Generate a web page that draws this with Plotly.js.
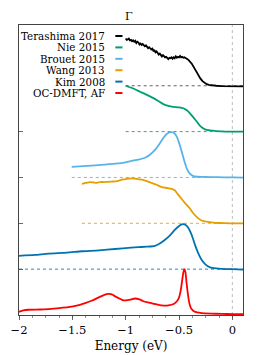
<!DOCTYPE html>
<html><head><meta charset="utf-8">
<script src="https://cdn.plot.ly/plotly-3.0.1.min.js"></script>
<style>body{margin:0;background:#fff}#chart{width:266px;height:355px}</style>
</head><body><div id="chart"></div>
<script>
// Series (energy in eV, intensity relative to each curve's baseline)
const names = ["Terashima 2017","Nie 2015","Brouet 2015","Wang 2013","Kim 2008","OC-DMFT, AF"];
const colors = ["#000000","#009E73","#56B4E9","#E69F00","#0072B2","#FF0000"];
const offsets = [5,4,3,2,1,0];
const baseStart = [-1.0,-1.0,-1.505,-1.41,-2.0,null];

const teraE = [-1.00,-0.99,-0.98,-0.97,-0.96,-0.95,-0.94,-0.93,-0.92,-0.91,-0.90,-0.89,-0.88,-0.87,-0.86,-0.85,-0.84,-0.83,-0.82,-0.81,-0.80,-0.79,-0.78,-0.77,-0.76,-0.75,-0.74,-0.73,-0.72,-0.71,-0.70,-0.69,-0.68,-0.67,-0.66,-0.65,-0.64,-0.63,-0.62,-0.61,-0.60,-0.59,-0.58,-0.57,-0.56,-0.55,-0.54,-0.53,-0.52,-0.51,-0.50,-0.49,-0.48,-0.47,-0.46,-0.45,-0.44,-0.43,-0.42,-0.41,-0.40,-0.38,-0.36,-0.34,-0.32,-0.30,-0.28,-0.26,-0.24,-0.22,-0.20,-0.15,-0.10,-0.05,0.00,0.05,0.10];
const teraY = [1.03,1.00,1.01,1.03,0.99,1.00,0.97,0.99,0.96,0.98,0.93,0.96,0.94,0.90,0.92,0.89,0.91,0.87,0.86,0.88,0.84,0.82,0.84,0.80,0.79,0.81,0.76,0.77,0.73,0.75,0.70,0.68,0.70,0.66,0.64,0.67,0.65,0.62,0.63,0.60,0.58,0.61,0.60,0.62,0.59,0.62,0.60,0.64,0.61,0.63,0.62,0.65,0.62,0.63,0.61,0.62,0.61,0.60,0.58,0.56,0.54,0.48,0.40,0.31,0.24,0.16,0.10,0.06,0.035,0.02,0.01,0.00,-0.01,-0.01,-0.01,-0.015,-0.015];

const nieE = [-1.0,-0.93,-0.865,-0.80,-0.74,-0.69,-0.647,-0.60,-0.553,-0.50,-0.459,-0.43,-0.397,-0.365,-0.334,-0.30,-0.256,-0.22,-0.18,-0.146,-0.10,-0.05,0,0.05,0.10];
const nieY = [1.0,0.94,0.87,0.80,0.73,0.66,0.60,0.56,0.54,0.53,0.51,0.47,0.40,0.31,0.22,0.12,0.05,0.03,0.02,0.01,0.005,0.0,0.0,0.0,0.0];

const brouetE = [-1.506,-1.40,-1.318,-1.20,-1.10,-1.00,-0.943,-0.88,-0.818,-0.77,-0.725,-0.68,-0.647,-0.61,-0.575,-0.545,-0.521,-0.50,-0.474,-0.45,-0.428,-0.40,-0.366,-0.33,-0.256,-0.15,0,0.1];
const brouetY = [0.23,0.245,0.26,0.28,0.30,0.33,0.36,0.39,0.43,0.50,0.60,0.74,0.86,0.96,0.99,0.97,0.89,0.76,0.56,0.36,0.20,0.09,0.03,0.015,0.01,0.005,0.0,-0.005];

const wangE = [-1.41,-1.37,-1.334,-1.30,-1.271,-1.24,-1.20,-1.131,-1.08,-1.037,-0.99,-0.943,-0.90,-0.849,-0.80,-0.756,-0.71,-0.662,-0.61,-0.568,-0.54,-0.506,-0.475,-0.443,-0.40,-0.366,-0.33,-0.287,-0.23,-0.162,-0.08,0,0.1];
const wangY = [0.86,0.88,0.90,0.89,0.88,0.90,0.90,0.91,0.92,0.95,0.97,0.98,0.97,0.95,0.92,0.88,0.84,0.79,0.77,0.75,0.72,0.62,0.53,0.44,0.33,0.22,0.13,0.06,0.03,0.01,0.005,0.0,0.0];

const kimE = [-2.0,-1.85,-1.725,-1.55,-1.412,-1.25,-1.10,-0.95,-0.881,-0.80,-0.725,-0.68,-0.631,-0.58,-0.537,-0.50,-0.465,-0.44,-0.412,-0.38,-0.35,-0.32,-0.287,-0.25,-0.209,-0.15,-0.10,0,0.1];
const kimY = [0.29,0.31,0.34,0.36,0.39,0.41,0.44,0.47,0.48,0.49,0.51,0.56,0.64,0.75,0.86,0.94,0.98,0.97,0.90,0.74,0.53,0.35,0.20,0.10,0.04,0.015,0.005,0.0,-0.01];

const dmftE = [-2.0,-1.96,-1.91,-1.80,-1.725,-1.62,-1.537,-1.45,-1.38,-1.32,-1.256,-1.20,-1.162,-1.13,-1.10,-1.06,-1.022,-0.97,-0.912,-0.87,-0.834,-0.78,-0.725,-0.66,-0.60,-0.55,-0.52,-0.50,-0.485,-0.47,-0.46,-0.45,-0.44,-0.43,-0.418,-0.405,-0.39,-0.375,-0.36,-0.33,-0.287,-0.2,-0.1,0,0.1];
const dmftY = [0.07,0.10,0.115,0.12,0.13,0.15,0.17,0.21,0.26,0.31,0.38,0.44,0.46,0.45,0.41,0.36,0.32,0.33,0.36,0.34,0.30,0.27,0.24,0.21,0.21,0.24,0.30,0.38,0.52,0.76,0.92,1.00,0.94,0.72,0.48,0.28,0.16,0.11,0.08,0.055,0.04,0.03,0.025,0.02,0.02];

const xTicks = [-2,-1.5,-1,-0.5,0];
const fermiE = 0;
const xRange = [-2, 0.1];
const yRange = [0, 6.325];

const seriesE = [teraE,nieE,brouetE,wangE,kimE,dmftE];
const seriesY = [teraY,nieY,brouetY,wangY,kimY,dmftY];

const traces = [];
// dotted baselines
for (let i = 0; i < names.length; i++) {
  if (baseStart[i] === null) continue;
  traces.push({x:[baseStart[i], xRange[1]], y:[offsets[i], offsets[i]], mode:'lines',
    line:{color: i===0 ? '#444444' : colors[i], width:1, dash:'dot'}, opacity: 0.85,
    hoverinfo:'skip', showlegend:false});
}
for (let i = 0; i < names.length; i++) {
  traces.push({x: seriesE[i], y: seriesY[i].map(v => v + offsets[i]), mode:'lines', name:names[i],
    line:{color:colors[i], width:1.8, shape: i===0 ? 'linear' : 'spline', smoothing:0.6},
    showlegend:false});
}

const serif = 'DejaVu Serif';
const annotations = [], shapes = [];
const legTop = 0.962, legStep = 0.0393;
names.forEach((n, i) => {
  const yy = legTop - i*legStep;
  annotations.push({text:n, xref:'paper', yref:'paper', x:0.392, y:yy, xanchor:'right', yanchor:'middle',
    showarrow:false, font:{family:serif, size:10.3, color:'#000'}});
  shapes.push({type:'line', xref:'paper', yref:'paper', x0:0.43, x1:0.462, y0:yy, y1:yy,
    line:{color:colors[i], width:2}});
});
shapes.push({type:'line', xref:'x', yref:'paper', x0:fermiE, x1:fermiE, y0:0, y1:1,
  line:{color:'#aaaaaa', width:0.8, dash:'dot'}, layer:'below'});

const layout = {
  width:266, height:355,
  margin:{l:19, r:23, t:25, b:39.5},
  paper_bgcolor:'#fff', plot_bgcolor:'#fff',
  font:{family:serif, size:10, color:'#000'},
  title:{text:'Γ', x:0.49, xref:'paper', y:0.955, yanchor:'middle', font:{family:serif, size:11}},
  showlegend:false,
  xaxis:{range:xRange, tickvals:xTicks, ticks:'outside', ticklen:4, tickwidth:0.8, tickcolor:'#444',
    showline:true, mirror:true, linecolor:'#444', linewidth:1, showgrid:false, zeroline:false,
    minor:{dtick:0.125, ticks:'outside', ticklen:2, tickwidth:0.6, tickcolor:'#444', showgrid:false},
    tickfont:{family:serif, size:11.5}, title:{text:'Energy (eV)', font:{family:serif, size:12}, standoff:5}},
  yaxis:{range:yRange, tickvals:[0,1,2,3,4], ticks:'inside', ticklen:4, tickwidth:0.8, tickcolor:'#444',
    showticklabels:false, showline:true, mirror:true, linecolor:'#444', linewidth:1,
    showgrid:false, zeroline:false},
  annotations: annotations, shapes: shapes
};
Plotly.newPlot('chart', traces, layout, {displayModeBar:false, staticPlot:true});
</script></body></html>
